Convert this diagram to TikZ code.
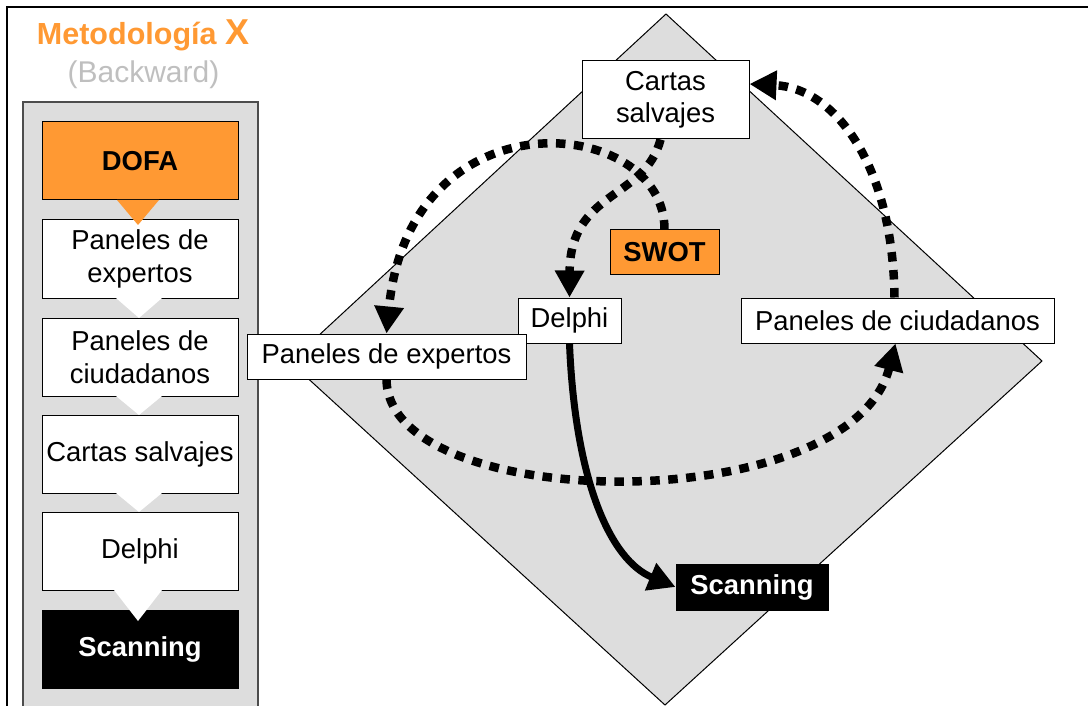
\documentclass[tikz,border=0pt]{standalone}
\usepackage{fontspec}
\setmainfont{Liberation Sans}
\usetikzlibrary{arrows.meta}
\definecolor{orng}{HTML}{FF9933}
\definecolor{panelgray}{HTML}{DDDDDD}
\definecolor{titlegray}{HTML}{BFBFBF}
\tikzset{
  txt/.style={font=\fontsize{27.4pt}{32.5pt}\selectfont, align=center, inner sep=0pt},
  wbox/.style={txt, draw=black, line width=1pt, fill=white},
  obox/.style={wbox, fill=orng, font=\fontsize{27.4pt}{32.5pt}\selectfont\bfseries},
  kbox/.style={wbox, fill=black, text=white, font=\fontsize{27.4pt}{32.5pt}\selectfont\bfseries},
  colbox/.style={minimum width=196pt, minimum height=78pt},
  dotarrow/.style={line width=8.5pt, dash pattern=on 9.5pt off 8.5pt, -{Triangle[length=27pt,width=28pt]}},
  solidarrow/.style={line width=7pt, -{Triangle[length=27pt,width=28pt]}},
}
\begin{document}
\begin{tikzpicture}[x=1pt,y=-1pt]
\useasboundingbox (0,0) rectangle (1088,706);
\clip (0,0) rectangle (1088,706);
% outer frame
\draw[line width=2.5pt] (7,720) -- (7,7) -- (1100,7);
% title
\node[anchor=base, text=orng, inner sep=0pt] (title) at (143,45)
  {\fontsize{30.5pt}{34pt}\selectfont\bfseries Metodología {\fontsize{36pt}{40pt}\selectfont X}};
\node[anchor=base, text=titlegray, inner sep=0pt, font=\fontsize{30pt}{34pt}\selectfont] (sub) at (143.5,83) {(Backward)};
% left panel
\draw[fill=panelgray, draw=black!70, line width=1.5pt] (23,102) rectangle (258,730);
\node[obox, colbox] (l1) at (140,161) {DOFA};
\node[wbox, colbox] (l2) at (140,259) {Paneles de\\expertos};
\node[wbox, colbox] (l3) at (140,357) {Paneles de\\ciudadanos};
\node[wbox, colbox] (l4) at (140,454) {Cartas salvajes};
\node[wbox, colbox] (l5) at (140,551) {Delphi};
\node[kbox, colbox] (l6) at (140,649) {Scanning};
% chevrons
\fill[white] (116,298) -- (162,298) -- (139,318) -- cycle;
\fill[white] (116,396) -- (162,396) -- (139,415) -- cycle;
\fill[white] (116,493) -- (162,493) -- (139,512) -- cycle;
\fill[orng] (117,200) -- (159,200) -- (138,225) -- cycle;
\fill[white] (114,590) -- (162,590) -- (138,621) -- cycle;
% diamond
\draw[fill=panelgray, draw=black, line width=1pt] (666,14) -- (1042,361) -- (665,705) -- (290,362) -- cycle;
% diamond nodes
\node[wbox, minimum width=167pt, minimum height=78pt] (cs) at (665.5,100) {Cartas\\salvajes};
\node[obox, minimum width=109pt, minimum height=44pt] (swot) at (664.5,252) {SWOT};
\node[wbox, minimum width=103pt, minimum height=45pt] (delphi) at (569.5,320.5) {Delphi};
\node[wbox, minimum width=279pt, minimum height=45pt] (pe) at (386.5,356.5) {Paneles de expertos};
\node[wbox, minimum width=313pt, minimum height=45pt] (pc) at (897.5,320.5) {Paneles de ciudadanos};
\node[kbox, minimum width=152pt, minimum height=46pt] (scan) at (752,587) {Scanning};
% arrows
\draw[dotarrow] (swot.north) .. controls (665,115) and (410,90) .. (pe.north);
\draw[dotarrow] ([xshift=-5pt]cs.south) .. controls (645,200) and (570,190) .. (delphi.north);
\draw[dotarrow] (pe.south) .. controls (388,515) and (850,520) .. ([xshift=-2pt]pc.south);
\draw[dotarrow] ([xshift=-3pt]pc.north) .. controls (893,165) and (835,88) .. ([yshift=16pt]cs.east);
\draw[solidarrow] (delphi.south) .. controls (575,480) and (610,560) .. (scan.west);
\end{tikzpicture}
\end{document}
